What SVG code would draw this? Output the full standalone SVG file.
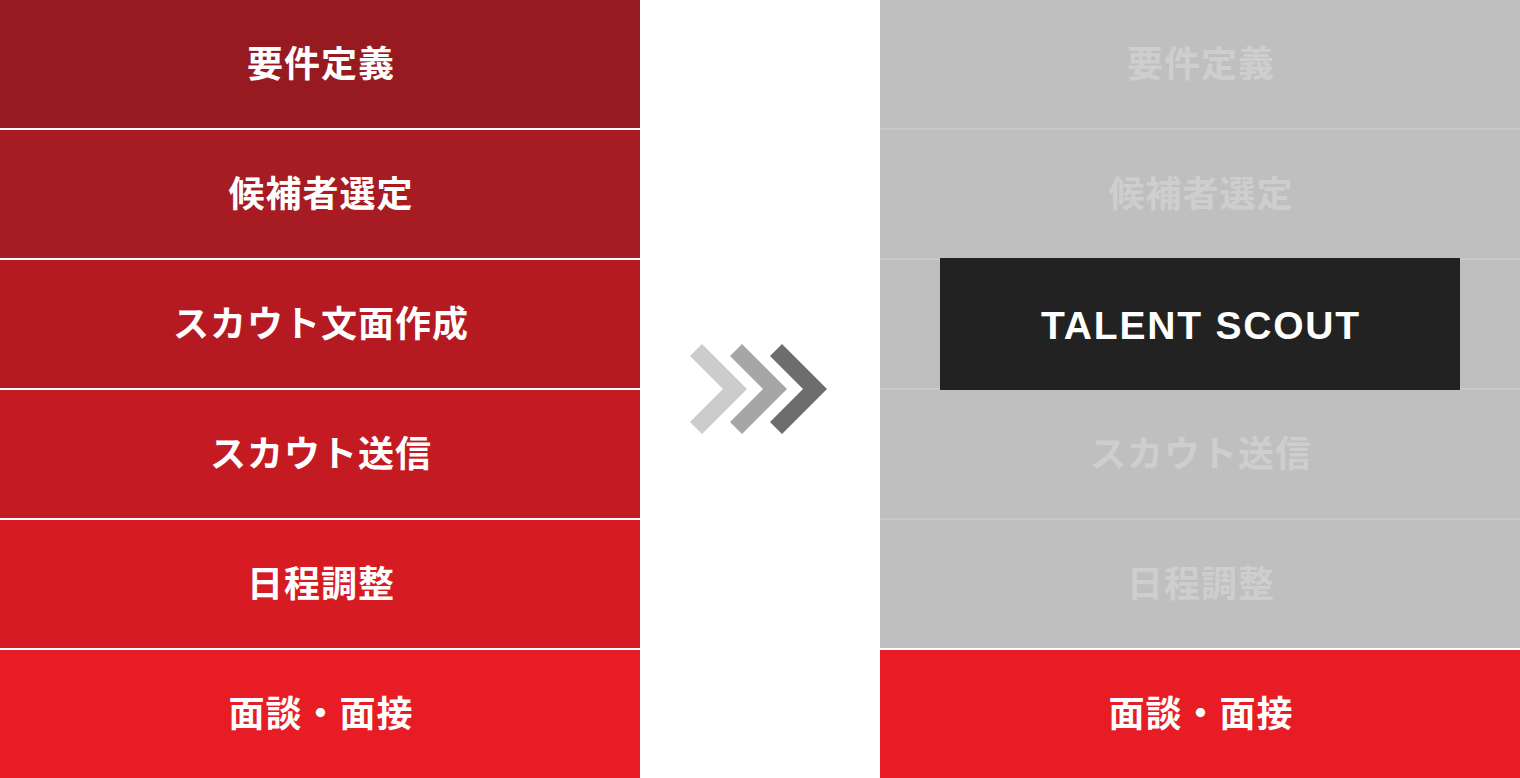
<svg xmlns="http://www.w3.org/2000/svg" width="1520" height="778" viewBox="0 0 1520 778">
<style>
.lbl{font-family:"Noto Sans CJK JP","Noto Sans",sans-serif;font-weight:700;font-size:36px;letter-spacing:1px;text-anchor:middle;fill:#ffffff}
.dim{fill:#cfcece}
.sep{fill:#c9c8c8}
.gray{fill:#c0bfbf}
.brand{font-family:"Liberation Sans",Arial,sans-serif;font-weight:700;font-size:39px;letter-spacing:1.8px;text-anchor:middle;fill:#ffffff}
</style>
<rect width="1520" height="778" fill="#ffffff"/>
<g id="left-flow">
<g id="l1"><rect x="0" y="0" width="640" height="128" fill="#981a21"/><text class="lbl" x="321" y="77">要件定義</text></g>
<g id="l2"><rect x="0" y="130" width="640" height="128" fill="#a71b23"/><text class="lbl" x="321" y="207">候補者選定</text></g>
<g id="l3"><rect x="0" y="260" width="640" height="128" fill="#b51a23"/><text class="lbl" x="321" y="337">スカウト文面作成</text></g>
<g id="l4"><rect x="0" y="390" width="640" height="128" fill="#c41b22"/><text class="lbl" x="321" y="467">スカウト送信</text></g>
<g id="l5"><rect x="0" y="520" width="640" height="128" fill="#d71b22"/><text class="lbl" x="321" y="597">日程調整</text></g>
<g id="l6"><rect x="0" y="650" width="640" height="128" fill="#e71c24"/><text class="lbl" x="321" y="727">面談・面接</text></g>
</g>
<g id="connectors">
<polygon points="702,344 747,389 702,434 690,422 723,389 690,356" fill="#cccccc"/>
<polygon points="742,344 787,389 742,434 730,422 763,389 730,356" fill="#a6a6a6"/>
<polygon points="782,344 827,389 782,434 770,422 803,389 770,356" fill="#6d6d6d"/>
</g>
<g id="right-flow">
<rect class="gray" x="880" y="0" width="640" height="648"/>
<rect class="sep" x="880" y="128" width="640" height="2"/>
<rect class="sep" x="880" y="258" width="640" height="2"/>
<rect class="sep" x="880" y="388" width="640" height="2"/>
<rect class="sep" x="880" y="518" width="640" height="2"/>
<g id="r1"><text class="lbl dim" x="1201" y="77">要件定義</text></g>
<g id="r2"><text class="lbl dim" x="1201" y="207">候補者選定</text></g>
<g id="r4"><text class="lbl dim" x="1201" y="467">スカウト送信</text></g>
<g id="r5"><text class="lbl dim" x="1201" y="597">日程調整</text></g>
<g id="talent-scout"><rect x="940" y="258" width="520" height="132" fill="#222222"/><text class="brand" x="1201" y="339">TALENT SCOUT</text></g>
<g id="r6"><rect x="880" y="650" width="640" height="128" fill="#e71c24"/><text class="lbl" x="1201" y="727">面談・面接</text></g>
</g>
</svg>
